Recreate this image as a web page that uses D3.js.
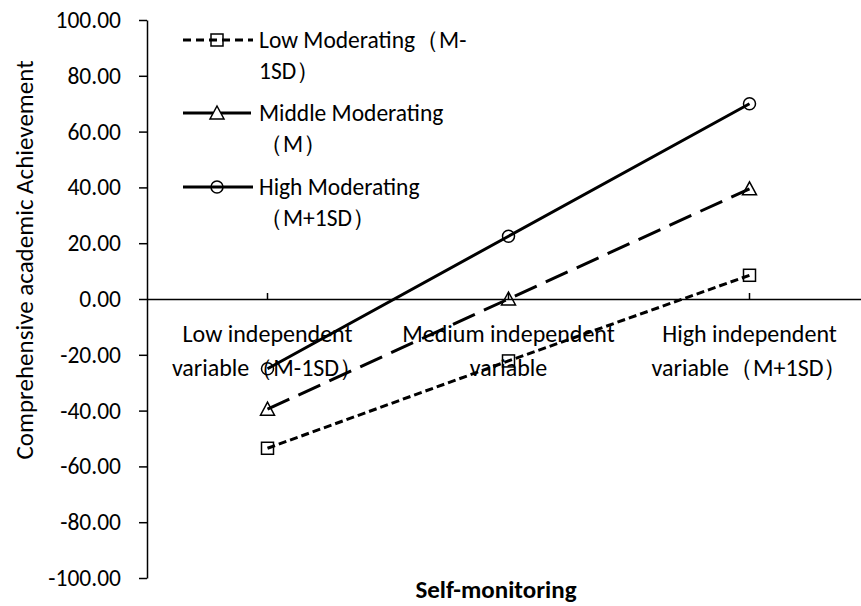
<!DOCTYPE html>
<html>
<head>
<meta charset="utf-8">
<script src="https://cdn.jsdelivr.net/npm/d3@7"></script>
<style>
  body { margin: 0; background: #fff; }
  text { font-family: Carlito, Lato, sans-serif; fill: #000; }
</style>
</head>
<body>
<script>
const width = 861;
const height = 606;

const margin = { left: 147, right: 0, top: 20, bottom: 28 };

// categories on the x axis (two label lines each)
const categories = ["low", "medium", "high"];
const categoryLabels = [
    ["Low independent", "variable（M-1SD）"],
    ["Medium independent", "variable"],
    ["High independent", "variable（M+1SD）"]
];

// series values
const lowModerating = [-53.5, -22.2, 8.5];
const middleModerating = [-39.5, 0.0, 39.5];
const highModerating = [-25.0, 22.5, 70.0];

const seriesNames = [
    ["Low Moderating（M-", "1SD）"],
    ["Middle Moderating", "（M）"],
    ["High Moderating", "（M+1SD）"]
];

const yTicks = [100, 80, 60, 40, 20, 0, -20, -40, -60, -80, -100];

const series = [
    { name: seriesNames[0], values: lowModerating, dash: "8,4", legendDash: "8,5", marker: "square" },
    { name: seriesNames[1], values: middleModerating, dash: "24,10", legendDash: "30,8", marker: "triangle" },
    { name: seriesNames[2], values: highModerating, dash: null, legendDash: null, marker: "circle" }
];

let svg = d3.select("body").append("svg")
    .attr("width", width)
    .attr("height", height);

let xScale = d3.scaleBand()
    .domain(categories)
    .range([margin.left, margin.left + 3 * 241]);

let yScale = d3.scaleLinear()
    .domain([-100, 100])
    .range([578, margin.top]);

// y axis
let yAxis = svg.append("g")
    .attr("transform", "translate(" + margin.left + ",0)")
    .call(d3.axisLeft(yScale)
        .tickValues(yTicks)
        .tickSize(8)
        .tickSizeOuter(0)
        .tickPadding(18));
yAxis.select(".domain").attr("stroke", "#000").attr("stroke-width", 1.5);
yAxis.selectAll(".tick line").attr("stroke", "#000").attr("stroke-width", 1.5);
yAxis.selectAll(".tick text")
    .style("font-family", "Carlito, Lato, sans-serif")
    .style("font-size", "23.5px")
    .attr("fill", "#000")
    .text(d => d3.format(".2f")(d).replace("−", "-"));

// x axis at zero, ticks pointing up
let xAxis = svg.append("g")
    .attr("transform", "translate(0," + yScale(0) + ")")
    .call(d3.axisTop(xScale).tickSize(6).tickSizeOuter(0).tickFormat(""));
xAxis.select(".domain").attr("stroke", "#000").attr("stroke-width", 1.5);
xAxis.selectAll(".tick line").attr("stroke", "#000").attr("stroke-width", 1.5);

const cx = d => xScale(d) + xScale.bandwidth() / 2;

// category labels
let catLabels = svg.append("g").selectAll("text")
    .data(categories)
    .join("text")
    .attr("text-anchor", "middle")
    .style("font-size", "24px")
    .attr("transform", d => `translate(${cx(d)},0)`);
catLabels.each(function(d, i) {
    d3.select(this).selectAll("tspan")
        .data(categoryLabels[i])
        .join("tspan")
        .attr("x", 0)
        .attr("y", (t, j) => 342 + j * 34)
        .text(t => t);
});

// axis titles
svg.append("text")
    .attr("text-anchor", "middle")
    .style("font-size", "25px")
    .attr("transform", "translate(33, 260) rotate(-90)")
    .text("Comprehensive academic Achievement");

svg.append("text")
    .attr("text-anchor", "middle")
    .style("font-size", "25px")
    .style("font-weight", "bold")
    .attr("x", 496)
    .attr("y", 598)
    .text("Self-monitoring");

function drawMarker(g, type, x, y) {
    if (type === "square") {
        g.append("rect").attr("x", x - 6).attr("y", y - 6).attr("width", 12).attr("height", 12)
            .attr("fill", "none").attr("stroke", "#000").attr("stroke-width", 1.5);
    } else if (type === "triangle") {
        g.append("path").attr("d", `M${x},${y - 7}L${x + 7},${y + 6}L${x - 7},${y + 6}Z`)
            .attr("fill", "none").attr("stroke", "#000").attr("stroke-width", 1.5);
    } else {
        g.append("circle").attr("cx", x).attr("cy", y).attr("r", 6)
            .attr("fill", "none").attr("stroke", "#000").attr("stroke-width", 1.5);
    }
}

let line = d3.line()
    .x((v, i) => cx(categories[i]))
    .y(v => yScale(v));

let lines = svg.append("g");
series.forEach(s => {
    lines.append("path")
        .attr("d", line(s.values))
        .attr("fill", "none")
        .attr("stroke", "#000")
        .attr("stroke-width", 3)
        .attr("stroke-dasharray", s.dash);
    s.values.forEach((v, i) => drawMarker(lines, s.marker, cx(categories[i]), yScale(v)));
});

// legend
const legendY = [40, 113, 187];
let legend = svg.append("g");
series.forEach((s, i) => {
    let y = legendY[i];
    legend.append("line")
        .attr("x1", 183).attr("x2", 253)
        .attr("y1", y).attr("y2", y)
        .attr("stroke", "#000")
        .attr("stroke-width", 3)
        .attr("stroke-dasharray", s.legendDash);
    drawMarker(legend, s.marker, 217, y);
    let t = legend.append("text").style("font-size", "23.5px");
    s.name.forEach((txt, j) => {
        t.append("tspan")
            .attr("x", 259)
            .attr("y", y + 8 + j * 31)
            .text(txt);
    });
});
</script>
</body>
</html>
